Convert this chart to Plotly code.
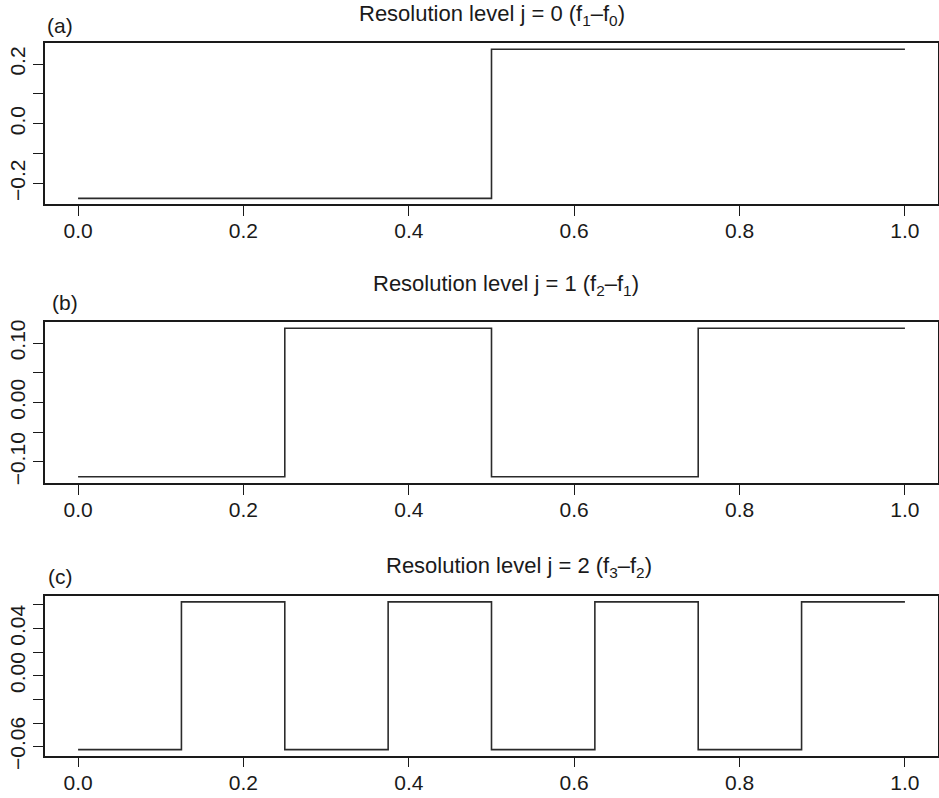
import plotly.graph_objects as go

# ---- data ----
x_a = [0.0, 0.5, 1.0]
y_a = [-0.25, 0.25, 0.25]

x_b = [0.0, 0.25, 0.5, 0.75, 1.0]
y_b = [-0.125, 0.125, -0.125, 0.125, 0.125]

x_c = [0.0, 0.125, 0.25, 0.375, 0.5, 0.625, 0.75, 0.875, 1.0]
y_c = [-0.0625, 0.0625, -0.0625, 0.0625, -0.0625, 0.0625, -0.0625, 0.0625, 0.0625]

x_tickvals = [0.0, 0.2, 0.4, 0.6, 0.8, 1.0]
x_ticktext = ["0.0", "0.2", "0.4", "0.6", "0.8", "1.0"]

yt_a = [-0.2, -0.1, 0.0, 0.1, 0.2]
yl_a = ["\u22120.2", "", "0.0", "", "0.2"]
yt_b = [-0.10, -0.05, 0.0, 0.05, 0.10]
yl_b = ["\u22120.10", "", "0.00", "", "0.10"]
yt_c = [-0.06, -0.04, -0.02, 0.0, 0.02, 0.04, 0.06]
yl_c = ["\u22120.06", "", "", "0.00", "", "0.04", ""]

titles = ["Resolution level j = 0 (f<sub>1</sub>\u2013f<sub>0</sub>)",
          "Resolution level j = 1 (f<sub>2</sub>\u2013f<sub>1</sub>)",
          "Resolution level j = 2 (f<sub>3</sub>\u2013f<sub>2</sub>)"]
panel_labels = ["(a)", "(b)", "(c)"]

W, H = 939, 798
L, R = 45, 1
FONT = "Liberation Sans, Arial, Helvetica, sans-serif"
LINE = "#2b2b2b"
FRAME = "#1a1a1a"

def px_x(px):
    return (px - L) / (W - L - R)

def px_y(py):
    return 1 - py / H

fig = go.Figure()
series = [(x_a, y_a), (x_b, y_b), (x_c, y_c)]
for i, (xs, ys) in enumerate(series):
    sfx = "" if i == 0 else str(i + 1)
    fig.add_trace(go.Scatter(x=xs, y=ys, mode="lines", line_shape="hv",
                             line=dict(color=LINE, width=1.6),
                             xaxis="x" + sfx, yaxis="y" + sfx,
                             showlegend=False, hoverinfo="skip"))

domains = [(204.3, 43.3), (482.7, 322.3), (755.5, 596.0)]
yranges = [(-0.27, 0.27), (-0.135, 0.135), (-0.0675, 0.0675)]
yticks = [(yt_a, yl_a), (yt_b, yl_b), (yt_c, yl_c)]

axis_common = dict(showline=True, mirror=True, linecolor=FRAME, linewidth=1.6,
                   ticks="outside", ticklen=10, tickwidth=1.2, tickcolor=FRAME,
                   showgrid=False, zeroline=False, automargin=False,
                   tickfont=dict(family=FONT, size=21, color="#1a1a1a"))

layout = dict(width=W, height=H, margin=dict(l=L, r=R, t=0, b=0),
              paper_bgcolor="white", plot_bgcolor="white", showlegend=False)

for i in range(3):
    sfx = "" if i == 0 else str(i + 1)
    bot, top = domains[i]
    layout["xaxis" + sfx] = dict(axis_common, domain=[0, 1], range=[-0.04, 1.04],
                                 anchor="y" + sfx, tickmode="array",
                                 tickvals=x_tickvals, ticktext=x_ticktext,
                                 ticklabelstandoff=-3)
    layout["yaxis" + sfx] = dict(axis_common, domain=[px_y(bot), px_y(top)],
                                 range=list(yranges[i]), anchor="x" + sfx,
                                 tickmode="array", tickvals=yticks[i][0],
                                 ticktext=yticks[i][1], tickangle=-90,
                                 ticklabelstandoff=0)

fig.update_layout(**layout)

title_pos = [(492, 15), (506.5, 285), (518.5, 567)]
label_pos = [(59.5, 25.5), (65, 302.5), (60.5, 576)]
for i in range(3):
    tx, ty = title_pos[i]
    fig.add_annotation(text=titles[i], xref="paper", yref="paper",
                       x=px_x(tx), y=px_y(ty), xanchor="center", yanchor="middle",
                       showarrow=False, font=dict(family=FONT, size=22, color="#1a1a1a"))
    lx, ly = label_pos[i]
    fig.add_annotation(text=panel_labels[i], xref="paper", yref="paper",
                       x=px_x(lx), y=px_y(ly), xanchor="center", yanchor="middle",
                       showarrow=False, font=dict(family=FONT, size=21, color="#1a1a1a"))

fig.write_html("out.html")
